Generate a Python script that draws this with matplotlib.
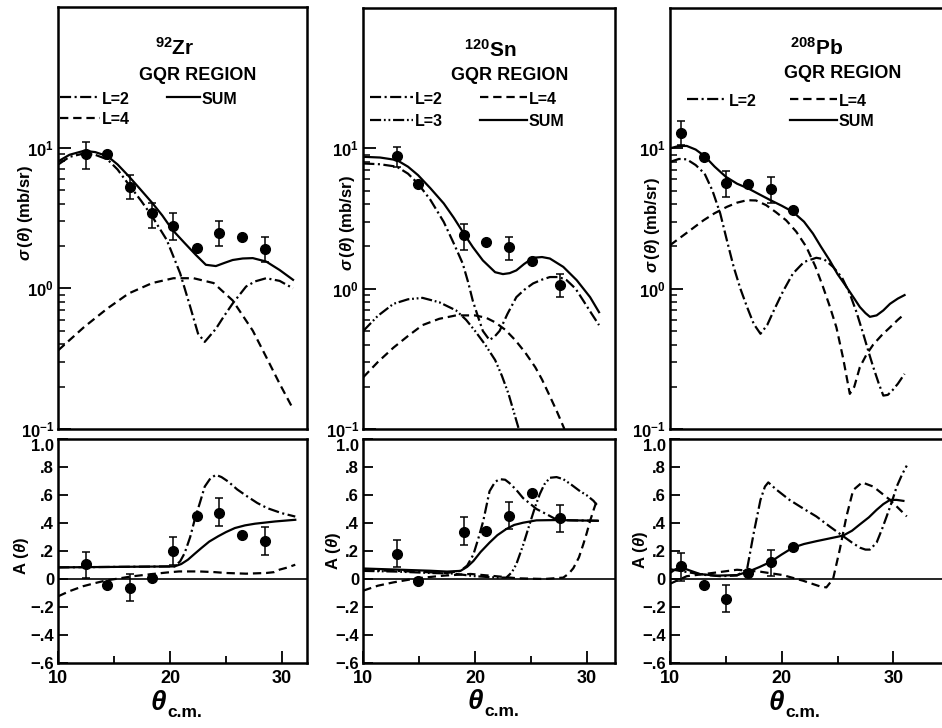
import numpy as np
import matplotlib
matplotlib.use("Agg")
import matplotlib.pyplot as plt
from matplotlib.lines import Line2D
from matplotlib.ticker import FixedLocator, FixedFormatter, NullFormatter

nan = np.nan

# ---------------- data : 92Zr ----------------
zr_theta = [12.5, 14.4, 16.4, 18.4, 20.3, 22.4, 24.4, 26.4, 28.5]
zr_sigma = [9.06, 8.96, 5.26, 3.43, 2.79, 1.93, 2.47, 2.31, 1.90]
zr_sigma_lo = [7.0, nan, 4.33, 2.68, 2.21, nan, 2.00, nan, 1.55]
zr_sigma_hi = [11.0, nan, 6.37, 4.05, 3.43, nan, 2.99, nan, 2.31]
zr_A = [0.107, -0.041, -0.064, 0.007, 0.197, 0.452, 0.475, 0.316, 0.274]
zr_A_lo = [0.01, nan, -0.159, nan, 0.102, nan, 0.38, nan, 0.174]
zr_A_hi = [0.194, nan, 0.039, nan, 0.30, nan, 0.578, nan, 0.375]

zr_sum_t = [10, 11, 12.3, 13.3, 14.4, 15.3, 16.3, 17.3, 18.4, 19.3, 20.2, 21.3, 22.3, 23.2, 24.1, 24.9, 25.6, 26.5, 27.4, 28.6, 29.8, 31.0]
zr_sum = [8.0, 8.9, 9.5, 9.3, 8.7, 7.6, 6.27, 5.1, 4.05, 3.3, 2.61, 2.1, 1.73, 1.47, 1.44, 1.52, 1.59, 1.63, 1.64, 1.55, 1.35, 1.15]
zr_l2_t = [10, 11, 12.3, 13.3, 14.4, 15.3, 16.3, 17.4, 18.4, 19.7, 20.9, 21.8, 22.5, 23.1, 24.1, 24.8, 25.6, 26.8, 27.6, 28.6, 29.8, 31.0]
zr_l2 = [7.6, 8.6, 9.1, 8.9, 8.25, 7.0, 5.47, 4.2, 3.24, 2.21, 1.28, 0.74, 0.477, 0.416, 0.516, 0.63, 0.78, 1.03, 1.12, 1.18, 1.13, 1.0]
zr_l4_t = [10, 12.3, 14.4, 16.3, 18.4, 20.3, 22.1, 23.9, 25.6, 27.4, 28.6, 29.8, 31.0]
zr_l4 = [0.363, 0.53, 0.72, 0.92, 1.09, 1.18, 1.18, 1.09, 0.82, 0.50, 0.325, 0.21, 0.139]

zr_Asum_t = [10, 20.4, 21.0, 21.6, 22.2, 22.8, 23.5, 24.3, 25.0, 25.8, 26.7, 27.6, 28.5, 29.4, 30.3, 31.2]
zr_Asum = [0.083, 0.09, 0.107, 0.138, 0.18, 0.221, 0.267, 0.305, 0.335, 0.364, 0.383, 0.395, 0.403, 0.411, 0.417, 0.423]
zr_Al2_t = [10, 20.4, 20.9, 21.3, 21.8, 22.2, 22.7, 23.1, 23.6, 24.1, 24.6, 25.2, 26.0, 26.9, 27.8, 28.7, 30.0, 31.2]
zr_Al2 = [0.083, 0.09, 0.126, 0.184, 0.30, 0.423, 0.553, 0.66, 0.718, 0.744, 0.728, 0.696, 0.64, 0.59, 0.543, 0.506, 0.47, 0.446]
zr_Al4_t = [10, 11, 12.2, 13.3, 14.3, 15.5, 16.6, 17.7, 18.7, 19.8, 20.8, 22.6, 24.0, 25.0, 26.8, 28.6, 29.3, 29.8, 30.5, 31.2]
zr_Al4 = [-0.123, -0.087, -0.052, -0.029, -0.01, 0.005, 0.019, 0.029, 0.038, 0.047, 0.054, 0.054, 0.049, 0.043, 0.038, 0.043, 0.049, 0.067, 0.082, 0.102]

# ---------------- data : 120Sn ----------------
sn_theta = [13.0, 14.9, 19.0, 21.0, 23.0, 25.1, 27.6]
sn_sigma = [8.86, 5.56, 2.41, 2.15, 1.99, 1.58, 1.06]
sn_sigma_lo = [7.4, nan, 1.88, nan, 1.6, nan, 0.87]
sn_sigma_hi = [10.3, nan, 2.88, nan, 2.34, nan, 1.28]
sn_A = [0.178, -0.016, 0.338, 0.34, 0.452, 0.613, 0.436]
sn_A_lo = [0.083, nan, 0.243, nan, 0.357, nan, 0.333]
sn_A_hi = [0.28, nan, 0.44, nan, 0.552, nan, 0.528]

sn_sum_t = [10, 11.5, 13, 14, 14.9, 16, 17.2, 18.1, 19.0, 19.8, 20.7, 21.8, 22.5, 23.1, 23.7, 24.4, 25.2, 26.0, 26.7, 27.9, 29.1, 30.3, 31.1]
sn_sum = [8.7, 8.6, 8.25, 7.4, 6.44, 5.2, 4.05, 3.2, 2.47, 1.98, 1.59, 1.31, 1.27, 1.29, 1.35, 1.5, 1.66, 1.68, 1.64, 1.43, 1.15, 0.87, 0.68]
sn_l2_t = [10, 11.5, 13, 14, 14.9, 16, 17.2, 18.1, 18.9, 19.4, 19.8, 20.3, 20.7, 21.3, 21.8, 22.2, 22.9, 23.7, 24.4, 25.2, 26.0, 26.7, 27.5, 28.2, 29.0, 29.7, 30.4, 31.1]
sn_l2 = [7.8, 7.7, 7.4, 6.6, 5.6, 4.3, 2.99, 2.1, 1.51, 1.1, 0.82, 0.62, 0.50, 0.43, 0.46, 0.50, 0.66, 0.87, 0.98, 1.09, 1.16, 1.21, 1.21, 1.15, 1.0, 0.82, 0.67, 0.55]
sn_l3_t = [10, 11.3, 12.7, 14.0, 15.3, 16.8, 18.3, 19.2, 20.0, 20.9, 21.8, 22.4, 23.0, 23.5, 24.0]
sn_l3 = [0.50, 0.64, 0.78, 0.84, 0.86, 0.80, 0.70, 0.60, 0.50, 0.40, 0.31, 0.24, 0.178, 0.13, 0.095]
sn_l4_t = [10, 11.3, 12.7, 14.0, 15.3, 16.8, 18.3, 20.0, 21.0, 21.8, 22.7, 23.6, 24.5, 25.4, 26.0, 26.6, 27.3, 28.0]
sn_l4 = [0.234, 0.30, 0.38, 0.46, 0.55, 0.61, 0.645, 0.645, 0.62, 0.576, 0.51, 0.43, 0.35, 0.275, 0.225, 0.178, 0.135, 0.10]

sn_Asum_t = [10, 13, 16, 17.5, 18.7, 19.3, 19.85, 20.5, 21.3, 22.0, 22.8, 23.5, 24.3, 25.5, 27.3, 31.0]
sn_Asum = [0.075, 0.067, 0.059, 0.053, 0.058, 0.087, 0.128, 0.193, 0.26, 0.313, 0.357, 0.386, 0.402, 0.419, 0.421, 0.416]
sn_Al2_t = [10, 13, 16, 17.5, 18.7, 19.3, 19.85, 20.3, 20.74, 21.3, 21.8, 22.2, 22.7, 23.1, 23.7, 24.3, 24.9, 25.5, 26.4, 27.3, 28.5, 31.0]
sn_Al2 = [0.063, 0.058, 0.048, 0.043, 0.058, 0.096, 0.174, 0.29, 0.415, 0.627, 0.694, 0.713, 0.709, 0.684, 0.636, 0.578, 0.54, 0.50, 0.463, 0.424, 0.419, 0.416]
sn_Al3_t = [10, 13, 16, 18, 20, 22, 22.8, 23.3, 23.7, 24.3, 24.9, 25.4, 25.8, 26.2, 26.7, 27.3, 27.9, 28.6, 29.4, 30.0, 30.6, 30.9]
sn_Al3 = [0.058, 0.053, 0.043, 0.039, 0.02, 0.01, 0.01, 0.048, 0.106, 0.241, 0.395, 0.52, 0.607, 0.675, 0.723, 0.728, 0.713, 0.675, 0.627, 0.598, 0.559, 0.53]
sn_Al4_t = [10, 11.3, 12.7, 14.8, 17.2, 19.6, 22.0, 23.8, 26.2, 27.9, 28.4, 28.8, 29.3, 29.7, 30.0, 30.3, 30.6, 30.9]
sn_Al4 = [-0.083, -0.048, -0.024, 0.005, 0.024, 0.036, 0.019, 0.005, 0.0, 0.01, 0.039, 0.077, 0.154, 0.25, 0.328, 0.415, 0.49, 0.56]

# ---------------- data : 208Pb ----------------
pb_theta = [11.0, 13.0, 15.0, 17.0, 19.0, 21.0]
pb_sigma = [12.9, 8.63, 5.68, 5.56, 5.1, 3.62]
pb_sigma_lo = [10.6, nan, 4.5, nan, 4.05, nan]
pb_sigma_hi = [15.7, nan, 6.9, nan, 6.27, nan]
pb_A = [0.09, -0.046, -0.141, 0.043, 0.119, 0.226]
pb_A_lo = [-0.016, nan, -0.238, nan, 0.019, nan]
pb_A_hi = [0.184, nan, -0.041, nan, 0.21, nan]

pb_sum_t = [10, 10.8, 11.5, 12.3, 13.1, 14.0, 15.0, 16.0, 17.0, 18.0, 19.0, 20.0, 21.0, 22.0, 22.8, 23.5, 24.3, 25.0, 25.8, 26.5, 27.0, 27.5, 27.9, 28.5, 29.1, 29.7, 30.4, 31.0]
pb_sum = [10.0, 10.4, 10.4, 9.8, 8.8, 7.4, 6.27, 5.6, 5.18, 4.7, 4.27, 3.9, 3.53, 3.0, 2.47, 2.0, 1.59, 1.27, 1.03, 0.85, 0.74, 0.67, 0.63, 0.645, 0.70, 0.78, 0.85, 0.90]
pb_l2_t = [10, 10.8, 11.5, 12.3, 13.1, 13.8, 14.5, 15.1, 15.7, 16.3, 16.9, 17.5, 18.1, 18.7, 19.3, 20.1, 21.0, 22.0, 23.1, 23.8, 24.6, 25.4, 26.1, 26.7, 27.3, 27.8, 28.2, 28.7, 29.1, 29.5, 29.9, 30.4, 31.0]
pb_l2 = [8.0, 8.4, 8.35, 7.6, 6.6, 5.0, 3.43, 2.2, 1.43, 1.0, 0.74, 0.56, 0.477, 0.55, 0.70, 0.95, 1.28, 1.55, 1.66, 1.62, 1.43, 1.2, 0.92, 0.68, 0.477, 0.35, 0.276, 0.21, 0.173, 0.175, 0.188, 0.21, 0.247]
pb_l4_t = [10, 11.5, 13, 14, 15.1, 16, 16.9, 17.7, 18.6, 19.5, 20.4, 21.3, 22.2, 23.0, 23.7, 24.3, 24.9, 25.5, 26.1, 26.5, 27.0, 27.6, 28.2, 29.0, 29.7, 30.4, 31.0]
pb_l4 = [2.04, 2.5, 3.07, 3.45, 3.83, 4.1, 4.27, 4.25, 3.94, 3.5, 3.07, 2.55, 1.99, 1.45, 1.03, 0.75, 0.53, 0.32, 0.178, 0.2, 0.276, 0.34, 0.40, 0.47, 0.53, 0.60, 0.66]

pb_Asum_t = [10, 10.5, 11.05, 11.8, 12.7, 14.2, 16.0, 17.0, 18.0, 19.0, 20.0, 21.0, 22.0, 23.1, 24.3, 25.5, 26.3, 27.0, 27.8, 28.5, 29.1, 29.7, 30.3, 30.9]
pb_Asum = [0.043, 0.07, 0.082, 0.06, 0.035, 0.024, 0.028, 0.052, 0.085, 0.122, 0.175, 0.224, 0.25, 0.27, 0.29, 0.31, 0.345, 0.39, 0.44, 0.494, 0.535, 0.565, 0.565, 0.558]
pb_Al2_t = [10, 11.5, 13, 14.5, 16.0, 16.9, 17.2, 17.5, 18.1, 18.5, 18.8, 19.5, 20.7, 22.0, 23.1, 24.3, 25.5, 26.3, 27.0, 27.5, 27.9, 28.5, 29.0, 29.4, 29.9, 30.3, 30.8, 31.2]
pb_Al2 = [0.07, 0.05, 0.03, 0.02, 0.025, 0.07, 0.2, 0.33, 0.565, 0.66, 0.69, 0.64, 0.565, 0.50, 0.447, 0.375, 0.306, 0.26, 0.224, 0.21, 0.21, 0.26, 0.36, 0.447, 0.56, 0.66, 0.75, 0.81]
pb_Al4_t = [10, 11.5, 13, 14.2, 16.0, 18.1, 20.1, 21.9, 23.4, 24.0, 24.6, 25.2, 25.8, 26.4, 27.2, 28.2, 29.7, 31.2]
pb_Al4 = [-0.034, 0.02, 0.035, 0.047, 0.066, 0.052, 0.028, -0.012, -0.052, -0.06, 0.0, 0.21, 0.447, 0.635, 0.69, 0.66, 0.565, 0.447]

log_ticks = [0.1, 1, 10]
log_labels = [r"$10^{-1}$", r"$10^{0}$", r"$10^{1}$"]
A_ticks = [-0.6, -0.4, -0.2, 0.0, 0.2, 0.4, 0.6, 0.8, 1.0]
A_labels = ["\u2212.6", "\u2212.4", "\u2212.2", "0", ".2", ".4", ".6", ".8", "1.0"]
x_ticks = [10, 20, 30]
x_labels = ["10", "20", "30"]

# ---------------- style ----------------
plt.rcParams["font.family"] = ["Liberation Sans", "DejaVu Sans"]
plt.rcParams["font.weight"] = "bold"
plt.rcParams["axes.labelweight"] = "bold"
plt.rcParams["mathtext.fontset"] = "custom"
plt.rcParams["mathtext.rm"] = "Liberation Sans:bold"
plt.rcParams["mathtext.it"] = "Liberation Sans:italic:bold"
plt.rcParams["mathtext.bf"] = "Liberation Sans:bold"
plt.rcParams["lines.scale_dashes"] = False

LS = {
    "sum": "-",
    "l2": (0, (8, 2.5, 1.5, 2.5)),
    "l3": (0, (8, 2, 1.3, 2, 1.3, 2)),
    "l4": (0, (6, 3.5)),
}
LW = 1.6

W, H = 942, 728


def box(l, t, r, b):
    return [l / W, 1 - b / H, (r - l) / W, (b - t) / H]


panels = [
    dict(top=(58.3, 7, 307, 429), bot=(58.3, 439, 307, 663), xmax=32.25,
         theta=zr_theta, sig=zr_sigma, slo=zr_sigma_lo, shi=zr_sigma_hi,
         A=zr_A, alo=zr_A_lo, ahi=zr_A_hi,
         curves=[("l4", zr_l4_t, zr_l4), ("l2", zr_l2_t, zr_l2), ("sum", zr_sum_t, zr_sum)],
         acurves=[("l4", zr_Al4_t, zr_Al4), ("sum", zr_Asum_t, zr_Asum), ("l2", zr_Al2_t, zr_Al2)],
         iso="92", el="Zr", iso_xy=(175, 55), gqr_xy=(197.5, 80),
         legend=[("l2", "L=2", 60, 100, 97), ("sum", "SUM", 167, 200, 97), ("l4", "L=4", 60, 100, 118)],
         ylab_top=(35, 213), ylab_bot=(31, 556), xlab=(167, 710)),
    dict(top=(363.3, 8, 615, 429), bot=(363.3, 439, 615, 663), xmax=32.53,
         theta=sn_theta, sig=sn_sigma, slo=sn_sigma_lo, shi=sn_sigma_hi,
         A=sn_A, alo=sn_A_lo, ahi=sn_A_hi,
         curves=[("l4", sn_l4_t, sn_l4), ("l3", sn_l3_t, sn_l3), ("l2", sn_l2_t, sn_l2), ("sum", sn_sum_t, sn_sum)],
         acurves=[("l4", sn_Al4_t, sn_Al4), ("l3", sn_Al3_t, sn_Al3), ("l2", sn_Al2_t, sn_Al2), ("sum", sn_Asum_t, sn_Asum)],
         iso="120", el="Sn", iso_xy=(490, 57), gqr_xy=(510, 80),
         legend=[("l2", "L=2", 370, 413, 97), ("l4", "L=4", 480, 527, 97),
                 ("l3", "L=3", 370, 413, 120), ("sum", "SUM", 480, 527, 120)],
         ylab_top=(357, 223), ylab_bot=(343, 551), xlab=(484, 709)),
    dict(top=(670, 8, 952, 429), bot=(670, 439, 952, 663), xmax=35.25,
         theta=pb_theta, sig=pb_sigma, slo=pb_sigma_lo, shi=pb_sigma_hi,
         A=pb_A, alo=pb_A_lo, ahi=pb_A_hi,
         curves=[("l4", pb_l4_t, pb_l4), ("l2", pb_l2_t, pb_l2), ("sum", pb_sum_t, pb_sum)],
         acurves=[("l4", pb_Al4_t, pb_Al4), ("l2", pb_Al2_t, pb_Al2), ("sum", pb_Asum_t, pb_Asum)],
         iso="208", el="Pb", iso_xy=(817, 55), gqr_xy=(843, 78),
         legend=[("l2", "L=2", 687, 727, 99), ("l4", "L=4", 790, 837, 99), ("sum", "SUM", 790, 837, 120)],
         ylab_top=(662, 225), ylab_bot=(650, 550), xlab=(785, 710)),
]

fig = plt.figure(figsize=(W / 100, H / 100), dpi=100)
fig.patch.set_facecolor("white")


def points(ax, t, y, lo, hi):
    t = np.asarray(t, float); y = np.asarray(y, float)
    lo = np.asarray(lo, float); hi = np.asarray(hi, float)
    m = ~np.isnan(lo)
    ax.errorbar(t[m], y[m], yerr=[y[m] - lo[m], hi[m] - y[m]], fmt="none",
                ecolor="black", elinewidth=1.1, capsize=2.6, capthick=1.1, zorder=4)
    ax.plot(t, y, "o", color="black", markersize=7, zorder=5)


for p in panels:
    l, t, r, b = p["top"]
    axt = fig.add_axes(box(*p["top"]))
    axb = fig.add_axes(box(*p["bot"]))
    for ax in (axt, axb):
        for s in ax.spines.values():
            s.set_linewidth(1.8)
        ax.set_xlim(10, p["xmax"])

    # ---- cross section panel ----
    axt.set_yscale("log")
    axt.set_ylim(0.1, 100)
    for sty, ct, cv in p["curves"]:
        axt.plot(ct, cv, color="black", lw=LW, linestyle=LS[sty], zorder=3)
    points(axt, p["theta"], p["sig"], p["slo"], p["shi"])
    axt.yaxis.set_major_locator(FixedLocator(log_ticks))
    axt.yaxis.set_major_formatter(FixedFormatter(log_labels))
    axt.yaxis.set_minor_locator(FixedLocator([0.2, 0.3, 0.4, 0.5, 0.6, 0.7, 0.8, 0.9, 2, 3, 4, 5, 6, 7, 8, 9]))
    axt.yaxis.set_minor_formatter(NullFormatter())
    axt.tick_params(axis="y", which="major", direction="in", length=9, width=1.3, labelsize=12, pad=3)
    axt.tick_params(axis="y", which="minor", direction="in", length=5, width=1.1)
    axt.tick_params(axis="x", which="both", bottom=False, top=False, labelbottom=False)
    axt.set_ylabel(r"$\sigma\,(\theta)$ (mb/sr)", fontsize=12)
    axt.yaxis.set_label_coords((p["ylab_top"][0] - l) / (r - l), (b - p["ylab_top"][1]) / (b - t))

    # ---- analyzing power panel ----
    lb, tb, rb, bb = p["bot"]
    axb.set_ylim(-0.6, 1.0)
    axb.axhline(0, color="black", lw=1.2, zorder=2)
    for sty, ct, cv in p["acurves"]:
        axb.plot(ct, cv, color="black", lw=LW, linestyle=LS[sty], zorder=3)
    points(axb, p["theta"], p["A"], p["alo"], p["ahi"])
    axb.yaxis.set_major_locator(FixedLocator(A_ticks))
    axb.yaxis.set_major_formatter(FixedFormatter(A_labels))
    axb.xaxis.set_major_locator(FixedLocator(x_ticks))
    axb.xaxis.set_major_formatter(FixedFormatter(x_labels))
    axb.xaxis.set_minor_locator(FixedLocator([15, 25]))
    axb.tick_params(axis="y", which="major", direction="in", length=7, width=1.3, labelsize=12, pad=3)
    axb.tick_params(axis="x", which="major", direction="in", length=8.5, width=1.3, labelsize=13, pad=5)
    axb.tick_params(axis="x", which="minor", direction="in", length=5, width=1.3)
    axb.set_ylabel(r"A $(\theta)$", fontsize=12)
    axb.yaxis.set_label_coords((p["ylab_bot"][0] - lb) / (rb - lb), (bb - p["ylab_bot"][1]) / (bb - tb))
    fig.canvas.draw()
    axb.get_yticklabels()[-1].set_verticalalignment("top")

    # x label: theta with c.m. subscript
    jx, by = p["xlab"]
    fig.text(jx / W, 1 - by / H, r"$\theta$", fontsize=20, ha="right", va="baseline")
    fig.text(jx / W, 1 - (by + 7) / H, "c.m.", fontsize=12.5, ha="left", va="baseline")

    # ---- titles ----
    ix, iy = p["iso_xy"]
    fig.text(ix / W, 1 - iy / H, r"$^{%s}$%s" % (p["iso"], p["el"]), fontsize=15,
             ha="center", va="baseline")
    gx, gy = p["gqr_xy"]
    fig.text(gx / W, 1 - gy / H, "GQR REGION", fontsize=13, ha="center", va="baseline")

    # ---- legend keys ----
    for sty, lab, x0, x1, y in p["legend"]:
        fig.add_artist(Line2D([x0 / W, x1 / W], [1 - y / H, 1 - y / H], transform=fig.transFigure,
                              color="black", lw=LW, linestyle=LS[sty]))
        fig.text((x1 + 2) / W, 1 - (y + 2) / H, lab, fontsize=11.5, ha="left", va="center")

fig.savefig("out.png", dpi=100, facecolor="white")
